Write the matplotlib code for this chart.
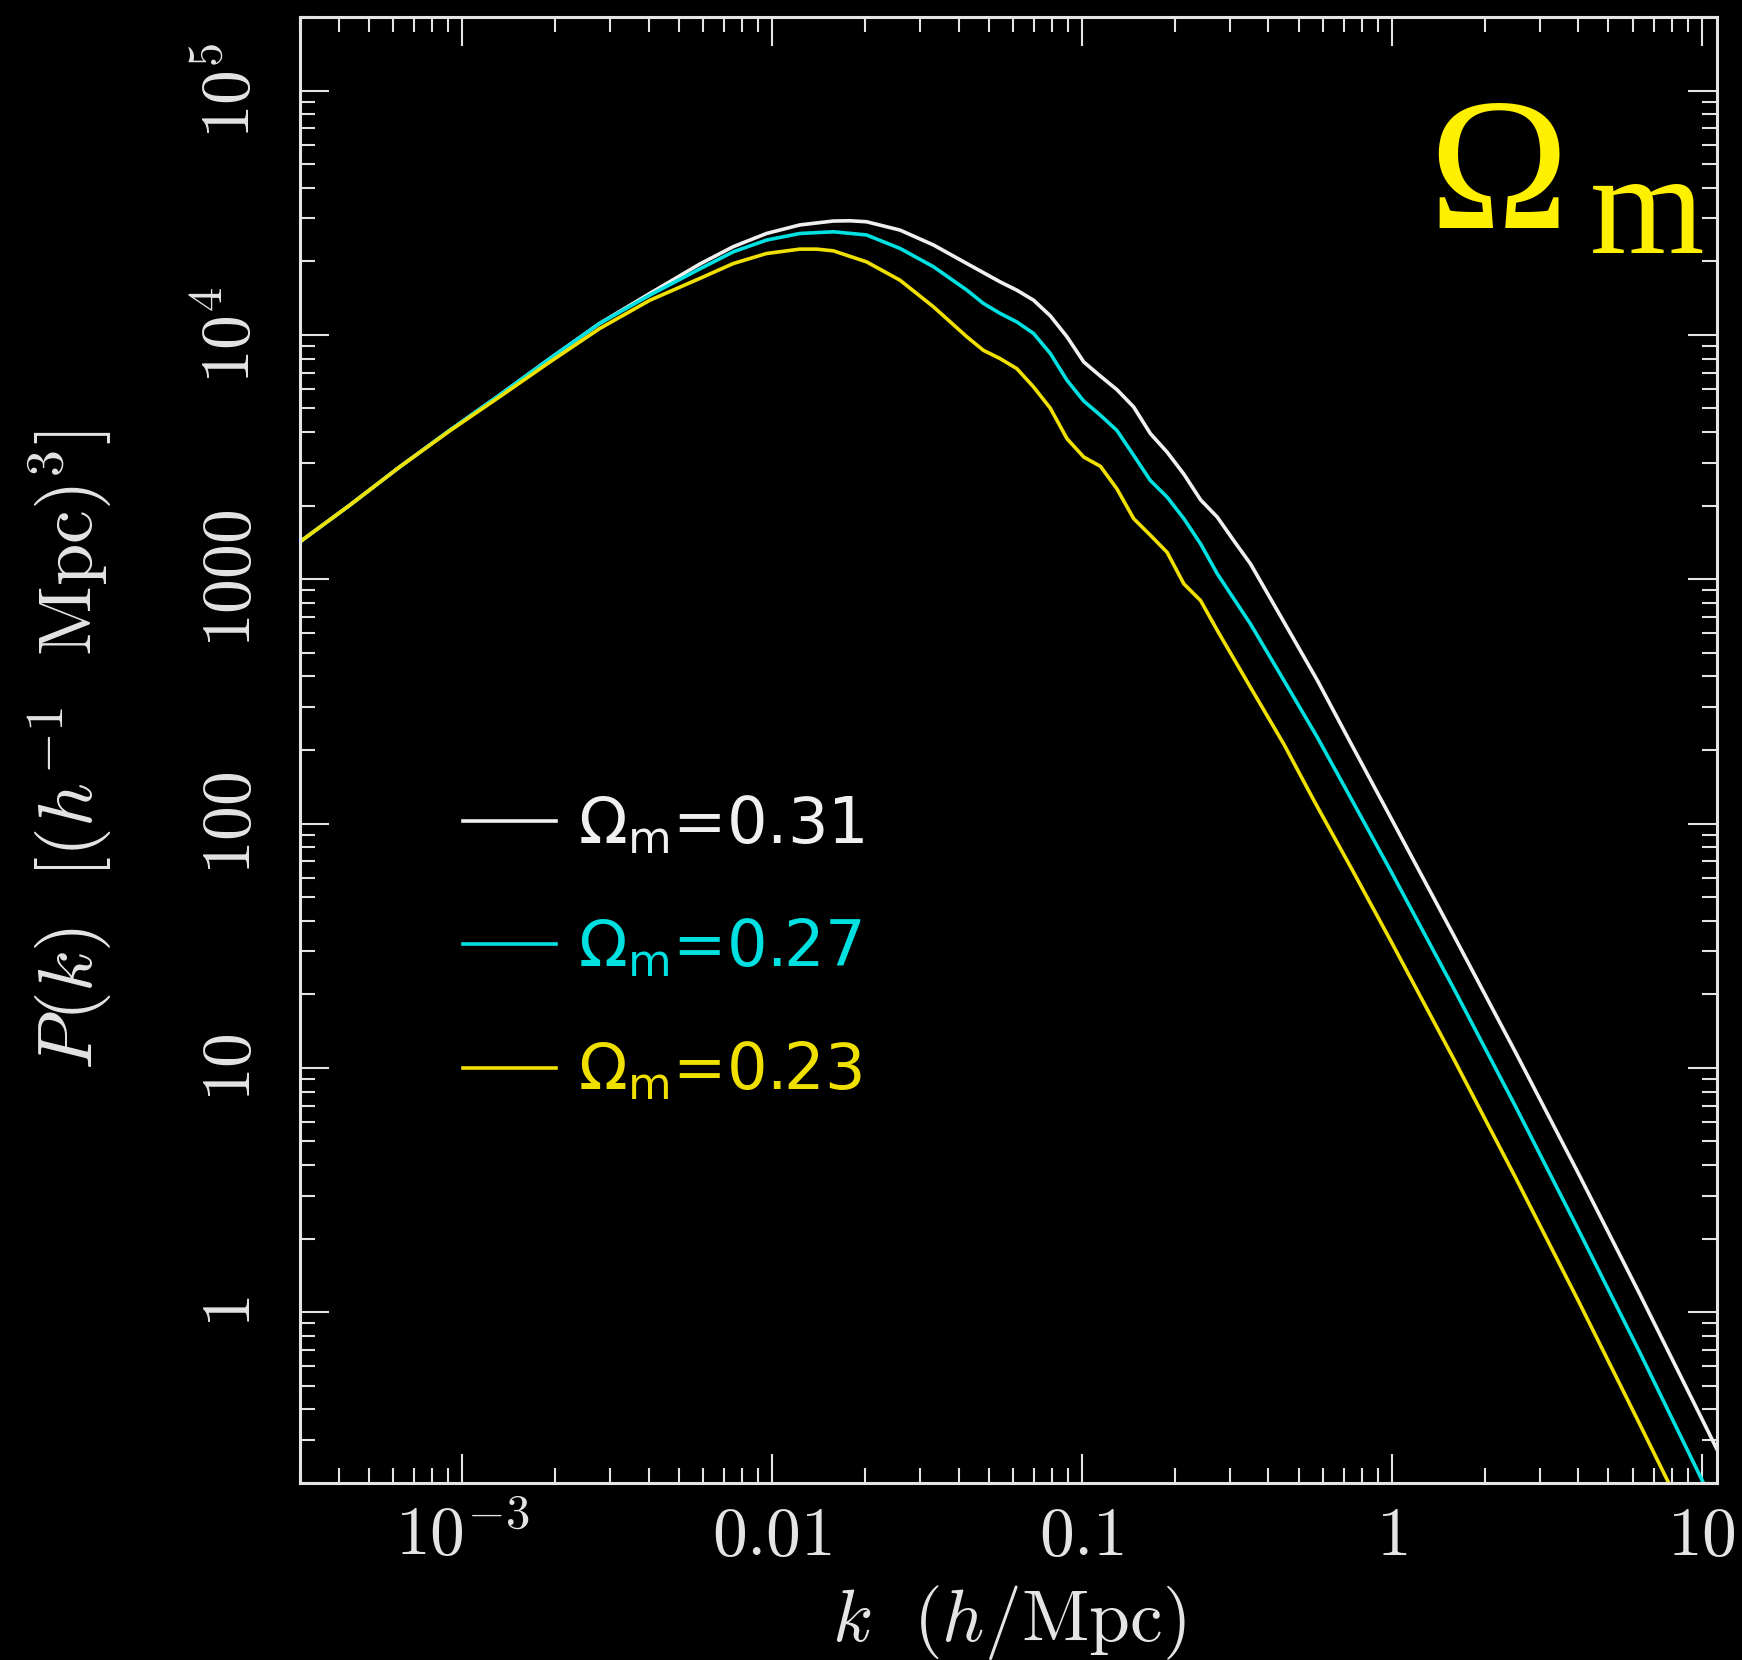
import numpy as np
import matplotlib
matplotlib.use("Agg")
import matplotlib.pyplot as plt
from matplotlib.ticker import LogLocator, NullFormatter
from matplotlib.font_manager import FontProperties

# ---------------- data ----------------
k_031 = [0.000299, 0.000433, 0.000628, 0.000912, 0.00132, 0.00192, 0.00278, 0.00404,
         0.00585, 0.0075, 0.0096, 0.0123, 0.01578, 0.01786, 0.02018, 0.02588, 0.03319,
         0.04256, 0.05445, 0.06166, 0.06982, 0.07907, 0.08954, 0.1014, 0.1148, 0.1297,
         0.1469, 0.1663, 0.1884, 0.2133, 0.2415, 0.2735, 0.3090, 0.3499, 0.4487, 0.5754,
         0.7362, 0.9441, 1.585, 2.512, 3.981, 6.310, 10.0, 11.48]
pk_031 = [1419, 2004, 2877, 4064, 5662, 8000, 11143, 14791,
          19498, 22961, 26002, 28184, 29242, 29309, 29040, 26853, 23335,
          19588, 16482, 15241, 13868, 11967, 9817, 7745, 6776, 5970,
          5070, 3945, 3311, 2692, 2113, 1795, 1439, 1156, 668, 385,
          214, 118.9, 34.8, 11.53, 3.74, 1.186, 0.367, 0.2576]

k_027 = [0.000299, 0.000433, 0.000628, 0.000912, 0.00132, 0.00192, 0.00278, 0.00404,
         0.00585, 0.0075, 0.0096, 0.0123, 0.01578, 0.02018, 0.02588, 0.03319, 0.04256,
         0.04808, 0.05445, 0.06166, 0.06982, 0.07907, 0.08954, 0.1014, 0.1148, 0.1297,
         0.1469, 0.1663, 0.1884, 0.2133, 0.2415, 0.2735, 0.3499, 0.4487, 0.5754, 0.7362,
         1.0, 1.585, 2.512, 3.981, 6.310, 10.09, 10.84]
pk_027 = [1419, 2004, 2877, 4064, 5662, 8000, 11143, 14555,
          18621, 21878, 24434, 26002, 26424, 25645, 22594, 19011, 15241,
          13459, 12246, 11298, 10139, 8395, 6516, 5358, 4688, 4064,
          3214, 2535, 2168, 1770, 1396, 1052, 656, 385, 225, 127.6,
          62.8, 21.1, 6.92, 2.20, 0.685, 0.202, 0.168]

k_023 = [0.000299, 0.000433, 0.000628, 0.000912, 0.00132, 0.00192, 0.00278, 0.00404,
         0.00585, 0.0075, 0.0096, 0.0123, 0.01393, 0.01578, 0.02018, 0.02588, 0.03319,
         0.04256, 0.04808, 0.05445, 0.06166, 0.06982, 0.07907, 0.08954, 0.1014, 0.1148,
         0.1297, 0.1469, 0.1663, 0.1884, 0.2133, 0.2415, 0.2735, 0.3499, 0.4487, 0.5610,
         0.7499, 1.0, 1.585, 2.512, 3.981, 6.310, 7.780, 8.511]
pk_023 = [1419, 2004, 2877, 4046, 5572, 7745, 10617, 13868,
          17022, 19588, 21528, 22439, 22439, 22080, 19907, 16749, 13032,
          9817, 8650, 7998, 7278, 6124, 5012, 3758, 3162, 2897,
          2344, 1770, 1514, 1288, 957, 818, 617, 361, 211, 124,
          63.7, 32.5, 10.86, 3.54, 1.125, 0.348, 0.203, 0.160]

series_labels = [r"$\Omega_{\mathrm{m}}$=0.31", r"$\Omega_{\mathrm{m}}$=0.27", r"$\Omega_{\mathrm{m}}$=0.23"]
series_colors = ["#f0f0f0", "#00e0e0", "#f0e000"]

x_ticks = [1e-3, 1e-2, 1e-1, 1, 10]
x_ticklabels = [r"$10^{-3}$", r"$0.01$", r"$0.1$", r"$1$", r"$10$"]
y_ticks = [1, 10, 100, 1000, 1e4, 1e5]
y_ticklabels = [r"$1$", r"$10$", r"$100$", r"$1000$", r"$10^{4}$", r"$10^{5}$"]

# ---------------- figure ----------------
plt.rcParams["mathtext.fontset"] = "cm"
W, H = 1742, 1660
fig = plt.figure(figsize=(W / 100, H / 100), dpi=100, facecolor="black")
ax = fig.add_axes([300 / W, 1 - 1483 / H, 1417 / W, 1466 / H], facecolor="black")

fg = "#e4e4e4"
for kk, pp, lab, col in zip([k_031, k_027, k_023], [pk_031, pk_027, pk_023],
                            series_labels, series_colors):
    ax.plot(kk, pp, color=col, lw=2.6, label=lab, solid_joinstyle="round")

ax.set_xscale("log")
ax.set_yscale("log")
ax.set_xlim(3e-4, 11.2)
ax.set_ylim(0.2, 2e5)

ax.set_xticks(x_ticks, x_ticklabels)
ax.set_yticks(y_ticks, y_ticklabels)
for axis in (ax.xaxis, ax.yaxis):
    axis.set_minor_locator(LogLocator(base=10, subs=np.arange(2, 10), numticks=100))
    axis.set_minor_formatter(NullFormatter())

for s in ax.spines.values():
    s.set_color(fg)
    s.set_linewidth(2.2)

ax.tick_params(which="major", direction="in", length=21, width=1.5, top=True, right=True,
               color=fg, labelcolor=fg, labelsize=50)
ax.tick_params(which="minor", direction="in", length=11, width=1.5, top=True, right=True,
               color=fg)
ax.tick_params(axis="x", pad=52)
ax.tick_params(axis="y", pad=26, labelrotation=90)
for lab in ax.get_xticklabels():
    lab.set_verticalalignment("baseline")
for lab in ax.get_yticklabels():
    lab.set_verticalalignment("center")

ax.set_xlabel(r"$k\ \ (h/\mathrm{Mpc})$", fontsize=53, color=fg)
ax.xaxis.set_label_coords(0.5, -0.068)
ax.set_ylabel(r"$P(k)\ \ [(h^{-1}\ \ \mathrm{Mpc})^{3}]$", fontsize=55, color=fg)
ax.yaxis.set_label_coords(-0.131, 0.5)

leg_font = FontProperties(family="DejaVu Sans", size=46, math_fontfamily="dejavusans")
leg = ax.legend(loc="upper left", bbox_to_anchor=(0.115, 0.470), frameon=False,
                prop=leg_font, labelcolor="linecolor", handlelength=1.46,
                handletextpad=0.34, labelspacing=0.95, borderpad=0, borderaxespad=0)
for line in leg.get_lines():
    line.set_linewidth(2.6)

title_col = "#fff000"
fig.text(1428 / W, 1 - 228 / H, "\u03a9", color=title_col, fontsize=136,
         family="Liberation Serif", ha="left", va="baseline")
fig.text(1704 / W, 1 - 253 / H, "m", color=title_col, fontsize=106,
         family="Liberation Serif", ha="right", va="baseline")

fig.savefig("out.png", dpi=100, facecolor="black")
